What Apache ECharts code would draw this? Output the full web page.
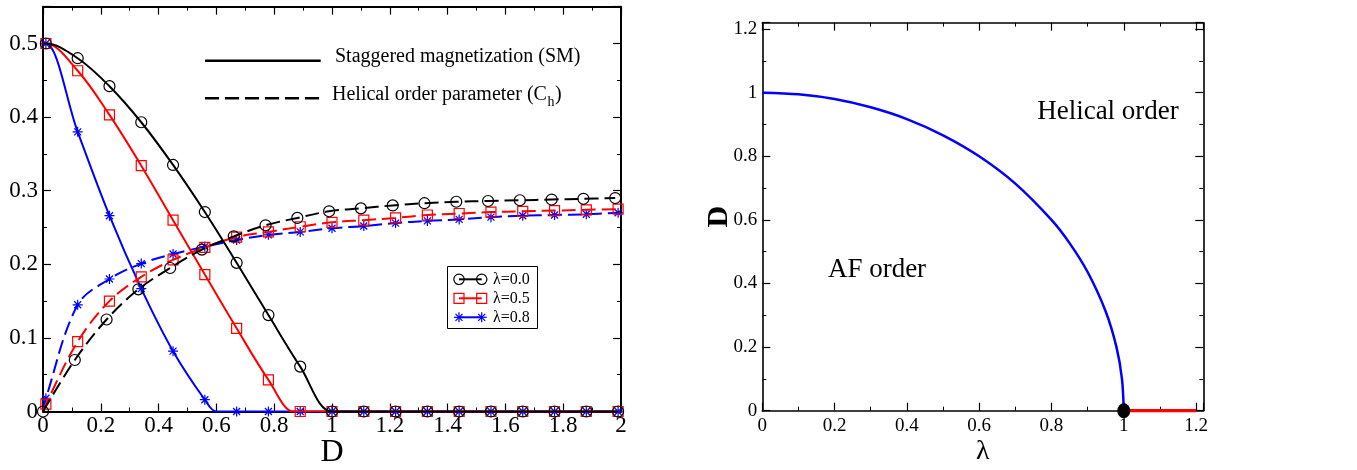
<!DOCTYPE html>
<html><head><meta charset="utf-8">
<script src="https://cdn.jsdelivr.net/npm/echarts@6/dist/echarts.min.js"></script>
<style>html,body{margin:0;padding:0;background:#fff}#c{width:1357px;height:470px}</style>
</head><body><div id="c"></div>
<script>
// ---------------- data: left panel (order parameters vs D) ----------------
const D_SM  = [0.01,0.12,0.23,0.34,0.45,0.56,0.67,0.78,0.89,1.00,1.11,1.22,1.33,1.44,1.55,1.66,1.77,1.88,1.99];
const D_CH0 = [0,0.11,0.22,0.33,0.44,0.55,0.66,0.77,0.88,0.99,1.10,1.21,1.32,1.43,1.54,1.65,1.76,1.87,1.98];
const SM_L00 = [0.5,0.48,0.442,0.393,0.335,0.271,0.202,0.131,0.061,0,0,0,0,0,0,0,0,0,0];
const SM_L05 = [0.5,0.463,0.403,0.334,0.26,0.186,0.113,0.043,0,0,0,0,0,0,0,0,0,0,0];
const SM_L08 = [0.5,0.38,0.266,0.167,0.082,0.016,0,0,0,0,0,0,0,0,0,0,0,0,0];
const SM_ONSET = [1.0, 0.866, 0.6];           // D where SM vanishes (λ=0.0, 0.5, 0.8)
const CH_L00 = [0,0.070,0.125,0.166,0.195,0.220,0.238,0.253,0.263,0.272,0.276,0.280,0.283,0.285,0.286,0.287,0.288,0.289,0.290];
const CH_L05 = [0.01,0.095,0.150,0.183,0.206,0.223,0.237,0.244,0.251,0.257,0.260,0.263,0.267,0.269,0.271,0.272,0.273,0.274,0.275];
const CH_L08 = [0.018,0.145,0.180,0.201,0.214,0.224,0.233,0.240,0.244,0.249,0.252,0.256,0.259,0.261,0.264,0.266,0.267,0.268,0.270];
const LEGEND_LAMBDA = ['λ=0.0','λ=0.5','λ=0.8'];
const LEGEND_KIND = ['Staggered magnetization (SM)', 'Helical order parameter (C', 'h', ')'];

// ---------------- data: right panel (phase diagram) ----------------
const LAMBDA     = [0,0.1,0.2,0.3,0.4,0.5,0.6,0.7,0.8,0.85,0.9,0.95,0.98,0.995,1.0];
const D_BOUNDARY = [1.0,0.995,0.98,0.954,0.917,0.866,0.8,0.714,0.6,0.527,0.436,0.312,0.199,0.1,0];
const LAMBDA_RED = [1.0, 1.2];
const D_RED      = [0, 0];
const CRIT_PT    = [1.0, 0];
const REGION_LABELS = ['Helical order', 'AF order'];

// ---------------- styling ----------------
const FONT = 'Liberation Serif';
const BLACK = '#000000', RED = '#ff0000', BLUE = '#0000ff';
const STAR = 'path://M5,0L5,10M0,5L10,5M1.5,1.5L8.5,8.5M1.5,8.5L8.5,1.5';

function axis(o) {
  return {
    type: 'value', gridIndex: o.grid, position: o.pos, min: o.min, max: o.max, interval: o.interval,
    name: o.name || '', nameLocation: 'middle', nameGap: o.nameGap || 0, nameRotate: o.nameRotate,
    nameMoveOverlap: false,
    nameTextStyle: o.nameStyle || {},
    splitLine: {show: false},
    axisLine: {show: true, onZero: false, lineStyle: {color: '#000', width: o.lw}},
    axisTick: {show: true, inside: true, length: 8, lineStyle: {color: '#000', width: 1.2}},
    minorTick: {show: true, splitNumber: 2, length: 4, lineStyle: {color: '#000', width: 1}},
    axisLabel: {show: !!o.labels, fontFamily: FONT, fontSize: o.fs, color: '#000', margin: o.margin,
                showMaxLabel: o.showMax}
  };
}

function buildPts(xs, ys, extras) {
  const pts = xs.map((x, i) => ({value: [x, ys[i]]}));
  (extras || []).forEach(p => pts.push({value: p, symbol: 'none'}));
  pts.sort((a, b) => a.value[0] - b.value[0]);
  return pts;
}

function curve(xs, ys, extras, color, dashed, symbol, size, z) {
  return {
    type: 'line', xAxisIndex: 0, yAxisIndex: 0, silent: true, smooth: 0.35,
    data: buildPts(xs, ys, extras), symbol: symbol, symbolSize: size, showSymbol: true,
    itemStyle: {color: 'rgba(0,0,0,0)', borderColor: color, borderWidth: 1.2},
    lineStyle: {color: color, width: 2, type: dashed ? [14, 6] : 'solid'},
    z: z
  };
}

const series = [
  curve(D_SM, SM_L08, [[0, 0.5], [SM_ONSET[2], 0]], BLUE, false, STAR, 10, 2),
  curve(D_SM, SM_L05, [[0, 0.5], [SM_ONSET[1], 0]], RED, false, 'rect', 10, 3),
  curve(D_SM, SM_L00, [[0, 0.5]], BLACK, false, 'circle', 11, 4),
  curve(D_SM, CH_L08, [[0, 0]], BLUE, true, STAR, 10, 2),
  curve(D_SM, CH_L05, [[0, 0]], RED, true, 'rect', 10, 3),
  curve(D_CH0, CH_L00, [], BLACK, true, 'circle', 11, 4),
  {
    type: 'line', xAxisIndex: 2, yAxisIndex: 2, silent: true, smooth: 0.3, showSymbol: false,
    data: LAMBDA.map((l, i) => [l, D_BOUNDARY[i]]),
    lineStyle: {color: BLUE, width: 2.5}, z: 3
  },
  {
    type: 'line', xAxisIndex: 2, yAxisIndex: 2, silent: true, showSymbol: false,
    data: LAMBDA_RED.map((l, i) => [l, D_RED[i]]),
    lineStyle: {color: RED, width: 3.5}, z: 4
  },
  {
    type: 'scatter', xAxisIndex: 2, yAxisIndex: 2, silent: true,
    data: [CRIT_PT], symbol: 'circle', symbolSize: [13, 15],
    itemStyle: {color: BLACK, opacity: 1}, z: 6
  }
];

// text measurement for sub-script placement
const mctx = document.createElement('canvas').getContext('2d');
mctx.font = '20px "Liberation Serif"';
const wBase = mctx.measureText(LEGEND_KIND[1]).width;
mctx.font = '14px "Liberation Serif"';
const wSub = mctx.measureText(LEGEND_KIND[2]).width;

const graphic = [];
// line-style legend
graphic.push({type: 'line', shape: {x1: 205, y1: 60.7, x2: 320.7, y2: 60.7}, style: {stroke: '#000', lineWidth: 2.5}, silent: true});
graphic.push({type: 'line', shape: {x1: 205, y1: 98.3, x2: 320.7, y2: 98.3}, style: {stroke: '#000', lineWidth: 2.5, lineDash: [14, 6]}, silent: true});
graphic.push({type: 'text', x: 335, y: 57, silent: true, style: {text: LEGEND_KIND[0], font: '20px "Liberation Serif"', fill: '#000', textAlign: 'left', textVerticalAlign: 'middle'}});
graphic.push({type: 'text', x: 332, y: 95, silent: true, style: {text: LEGEND_KIND[1], font: '20px "Liberation Serif"', fill: '#000', textAlign: 'left', textVerticalAlign: 'middle'}});
graphic.push({type: 'text', x: 332 + wBase + 0.5, y: 102, silent: true, style: {text: LEGEND_KIND[2], font: '14px "Liberation Serif"', fill: '#000', textAlign: 'left', textVerticalAlign: 'middle'}});
graphic.push({type: 'text', x: 332 + wBase + wSub + 1, y: 95, silent: true, style: {text: LEGEND_KIND[3], font: '20px "Liberation Serif"', fill: '#000', textAlign: 'left', textVerticalAlign: 'middle'}});

// λ legend box
graphic.push({type: 'rect', shape: {x: 447.5, y: 266.5, width: 90, height: 62}, style: {fill: '#fff', stroke: '#000', lineWidth: 1}, silent: true, z: 10});
const rowsY = [279.3, 298.3, 317.3];
const cols = [BLACK, RED, BLUE];
const xa = 459, xb = 481.7;
rowsY.forEach((y, i) => {
  const c = cols[i];
  graphic.push({type: 'line', z: 11, silent: true, shape: {x1: xa, y1: y, x2: xb, y2: y}, style: {stroke: c, lineWidth: 2}});
  [xa, xb].forEach(x => {
    if (i === 0) {
      graphic.push({type: 'circle', z: 12, silent: true, shape: {cx: x, cy: y, r: 5.2}, style: {fill: 'rgba(0,0,0,0)', stroke: c, lineWidth: 1.2}});
    } else if (i === 1) {
      graphic.push({type: 'rect', z: 12, silent: true, shape: {x: x - 5, y: y - 5, width: 10, height: 10}, style: {fill: 'rgba(0,0,0,0)', stroke: c, lineWidth: 1.2}});
    } else {
      [[0, -5, 0, 5], [-5, 0, 5, 0], [-3.5, -3.5, 3.5, 3.5], [-3.5, 3.5, 3.5, -3.5]].forEach(s => {
        graphic.push({type: 'line', z: 12, silent: true, shape: {x1: x + s[0], y1: y + s[1], x2: x + s[2], y2: y + s[3]}, style: {stroke: c, lineWidth: 1.2}});
      });
    }
  });
  graphic.push({type: 'text', z: 12, silent: true, x: 493, y: y, style: {text: LEGEND_LAMBDA[i], font: '16px "Liberation Serif"', fill: '#000', textAlign: 'left', textVerticalAlign: 'middle'}});
});

// phase labels
graphic.push({type: 'text', x: 1108, y: 112, silent: true, style: {text: REGION_LABELS[0], font: '27px "Liberation Serif"', fill: '#000', textAlign: 'center', textVerticalAlign: 'middle'}});
graphic.push({type: 'text', x: 877, y: 270, silent: true, style: {text: REGION_LABELS[1], font: '27px "Liberation Serif"', fill: '#000', textAlign: 'center', textVerticalAlign: 'middle'}});

const option = {
  animation: false,
  backgroundColor: '#fff',
  grid: [
    {left: 43, top: 6.7, width: 578, height: 404.8, outerBoundsMode: 'none'},
    {left: 762.3, top: 22.7, width: 441, height: 388, outerBoundsMode: 'none'}
  ],
  xAxis: [
    axis({grid: 0, pos: 'bottom', min: 0, max: 2, interval: 0.2, lw: 2, labels: true, fs: 23, margin: 3, showMax: true,
          name: 'D', nameGap: 25, nameStyle: {fontFamily: FONT, fontSize: 32, color: '#000'}}),
    axis({grid: 0, pos: 'top', min: 0, max: 2, interval: 0.2, lw: 2, labels: false}),
    axis({grid: 1, pos: 'bottom', min: 0, max: 1.22, interval: 0.2, lw: 1.6, labels: true, fs: 19, margin: 6, showMax: false,
          name: 'λ', nameGap: 27, nameStyle: {fontFamily: FONT, fontSize: 28, color: '#000'}}),
    axis({grid: 1, pos: 'top', min: 0, max: 1.22, interval: 0.2, lw: 1.6, labels: false})
  ],
  yAxis: [
    axis({grid: 0, pos: 'left', min: 0, max: 0.55, interval: 0.1, lw: 2, labels: true, fs: 23, margin: 5, showMax: false}),
    axis({grid: 0, pos: 'right', min: 0, max: 0.55, interval: 0.1, lw: 2, labels: false}),
    axis({grid: 1, pos: 'left', min: 0, max: 1.22, interval: 0.2, lw: 1.6, labels: true, fs: 19, margin: 5, showMax: false,
          name: 'D', nameGap: 28, nameRotate: 90, nameStyle: {fontFamily: FONT, fontSize: 30, fontWeight: 'bold', color: '#000'}}),
    axis({grid: 1, pos: 'right', min: 0, max: 1.22, interval: 0.2, lw: 1.6, labels: false})
  ],
  series: series,
  graphic: graphic
};

const chart = echarts.init(document.getElementById('c'), null, {renderer: 'canvas'});
chart.setOption(option);
</script>
</body></html>
